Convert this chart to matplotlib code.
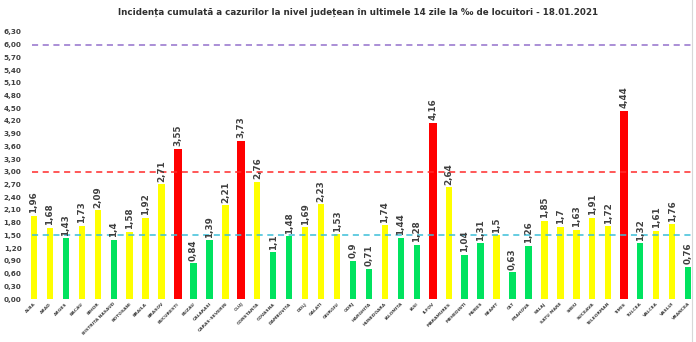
import numpy as np
import matplotlib
matplotlib.use("Agg")
import matplotlib.pyplot as plt

# Data
judete = ["ALBA", "ARAD", "ARGES", "BACAU", "BIHOR", "BISTRITA NASAUD", "BOTOSANI",
          "BRAILA", "BRASOV", "BUCURESTI", "BUZAU", "CALARASI", "CARAS-SEVERIN", "CLUJ",
          "CONSTANTA", "COVASNA", "DAMBOVITA", "DOLJ", "GALATI", "GIURGIU", "GORJ",
          "HARGHITA", "HUNEDOARA", "IALOMITA", "IASI", "ILFOV", "MARAMURES", "MEHEDINTI",
          "MURES", "NEAMT", "OLT", "PRAHOVA", "SALAJ", "SATU MARE", "SIBIU", "SUCEAVA",
          "TELEORMAN", "TIMIS", "TULCEA", "VALCEA", "VASLUI", "VRANCEA"]
incidenta = [1.96, 1.68, 1.43, 1.73, 2.09, 1.4, 1.58, 1.92, 2.71, 3.55, 0.84, 1.39,
             2.21, 3.73, 2.76, 1.1, 1.48, 1.69, 2.23, 1.53, 0.9, 0.71, 1.74, 1.44, 1.28,
             4.16, 2.64, 1.04, 1.31, 1.5, 0.63, 1.26, 1.85, 1.7, 1.63, 1.91, 1.72, 4.44,
             1.32, 1.61, 1.76, 0.76]
praguri = [1.5, 3.0, 6.0]
culori_prag = ["#3bbfd9", "#ff2a2a", "#9370cc"]
y_ticks = np.arange(0, 6.31, 0.3)

title = "Incidența cumulată a cazurilor la nivel județean în ultimele 14 zile la ‰ de locuitori - 18.01.2021"


def culoare(v):
    if v > 3.0:
        return "#ff0000"
    if v >= 1.5:
        return "#ffff00"
    return "#00e35f"


fig = plt.figure(figsize=(6.96, 3.42), dpi=100)
ax = fig.add_axes([0.035, 0.1257, 0.9627, 0.7872])

x = np.arange(len(judete))
cols = [culoare(v) for v in incidenta]
widths = [0.5 if v > 3.0 else 0.4 for v in incidenta]
ax.bar(x, incidenta, width=widths, color=cols, zorder=2)

# threshold lines
for p, c in zip(praguri, culori_prag):
    ax.plot([-0.1, 41.5], [p, p], color=c, linestyle=(0, (4, 3)), linewidth=1.1, zorder=3)

# value labels
for xi, v in zip(x, incidenta):
    txt = ("%g" % v).replace(".", ",")
    ax.text(xi, v + 0.06, txt, rotation=90, ha="center", va="bottom",
            fontsize=6.3, fontweight="bold", color="#404040")

ax.set_xlim(-0.6, 41.4)
ax.set_ylim(0, 6.35)
ax.set_yticks(y_ticks)
ax.set_yticklabels([("%.2f" % t).replace(".", ",") for t in y_ticks],
                   fontsize=5.2, fontweight="bold", color="#404040")
ax.set_xticks(x)
ax.set_xticklabels(judete, rotation=45, ha="right", rotation_mode="anchor",
                   fontsize=3.2, fontweight="bold", color="#404040")
ax.tick_params(axis="both", length=0, pad=2)
for s in ax.spines.values():
    s.set_visible(False)

fig.text(0.515, 1 - 12 / 342, title, ha="center", va="center",
         fontsize=6.3, fontweight="bold", color="#303030")

# thin grey border at the right edge
fig.add_artist(plt.Line2D([692 / 696, 692 / 696], [0, 1], color="#d8d8d8", linewidth=0.8))

fig.savefig("out.png", dpi=100)
